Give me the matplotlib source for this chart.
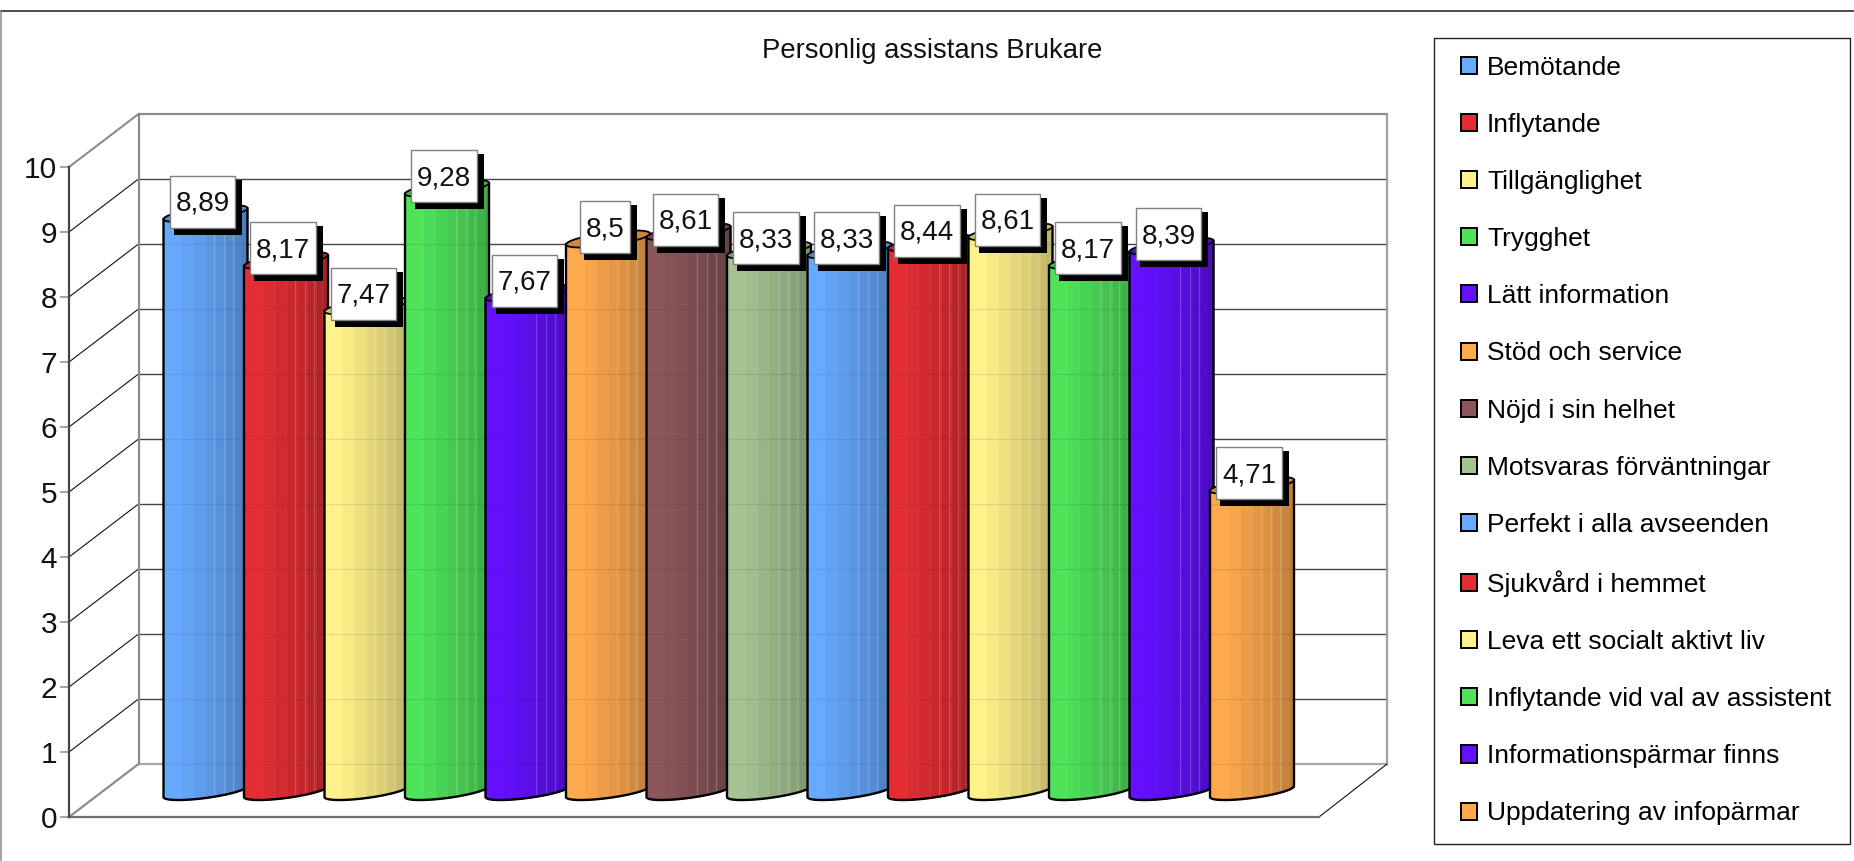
import numpy as np
import matplotlib
matplotlib.use('Agg')
import matplotlib.pyplot as plt
from matplotlib.patches import Patch, Polygon, Rectangle

plt.rcParams['font.family'] = ['Liberation Sans', 'DejaVu Sans']

title = 'Personlig assistans Brukare'
categories = ['Bemötande', 'Inflytande', 'Tillgänglighet', 'Trygghet', 'Lätt information',
              'Stöd och service', 'Nöjd i sin helhet', 'Motsvaras förväntningar',
              'Perfekt i alla avseenden', 'Sjukvård i hemmet', 'Leva ett socialt aktivt liv',
              'Inflytande vid val av assistent', 'Informationspärmar finns',
              'Uppdatering av infopärmar']
values = [8.89, 8.17, 7.47, 9.28, 7.67, 8.5, 8.61, 8.33, 8.33, 8.44, 8.61, 8.17, 8.39, 4.71]
colors = ['#66A9FF', '#E32D33', '#FFF28A', '#4FE35A', '#6410FF', '#FFA94D', '#8A565A',
          '#A6C492', '#66A9FF', '#E32D33', '#FFF28A', '#4FE35A', '#6410FF', '#FFA94D']
yticks = list(range(11))

# pixel sizes of the fake 3d box
W, H = 1854, 861
STEP = 80.5    # px per category
UNIT = 65.0    # px per value unit
X0 = 205.5     # px of first bar centre
Y0 = 817.0     # px of value 0 on the front plane
DPI = 100


def px(x):
    return (x - X0) / STEP


def py(y):
    return (Y0 - y) / UNIT


fig = plt.figure(figsize=(W / DPI, H / DPI), dpi=DPI, facecolor='white')
ax = fig.add_axes([0, 0, 1, 1])
ax.set_xlim(px(0), px(W))
ax.set_ylim(py(H), py(0))
ax.set_facecolor('white')

# outer frame
ax.plot([px(0), px(W)], [py(10.5), py(10.5)], color='#3c3c3c', lw=1.3, zorder=1)
ax.plot([px(1), px(1)], [py(10.5), py(H)], color='#8c8c8c', lw=1.1, zorder=1)

# walls and grid
front_l, back_l, back_r, front_r = px(69), px(138.5), px(1387), px(1319)
depth = 53 / UNIT
GREY = '#8c8c8c'
for v in yticks[1:]:
    ax.plot([front_l, back_l], [v, v + depth], color='#111111', lw=0.8, zorder=1)
    ax.plot([back_l, back_r], [v + depth, v + depth], color='#444444' if v < 10 else GREY,
            lw=1.0 if v < 10 else 1.6, zorder=1)
ax.plot([front_l, back_l], [10, 10 + depth], color=GREY, lw=1.4, zorder=1)
ax.plot([back_l, back_l], [depth, 10 + depth], color=GREY, lw=1.6, zorder=1)
ax.plot([back_r, back_r], [depth, 10 + depth], color='#a0a0a0', lw=1.6, zorder=1)
ax.plot([back_l, back_r], [depth, depth], color='#a8a8a8', lw=1.6, zorder=1)
ax.plot([front_l, back_l], [0, depth], color=GREY, lw=1.6, zorder=1)
ax.plot([front_r, back_r], [0, depth], color='#111111', lw=0.8, zorder=1)
ax.plot([front_l, front_r], [0, 0], color='#6e6e6e', lw=1.6, zorder=1)

# value axis
for side in ['top', 'right', 'bottom']:
    ax.spines[side].set_visible(False)
ax.spines['left'].set_position(('data', front_l))
ax.spines['left'].set_bounds(0, 10)
ax.spines['left'].set_color('#444444')
ax.spines['left'].set_linewidth(1.6)
ax.set_xticks([])
ax.set_yticks(yticks)
ax.tick_params(axis='y', length=6.5, width=1.1, color='#8c8c8c', pad=2, labelsize=21.5, labelcolor='#111111')

# cylinders
strip_edges = np.array([0, 18, 30, 42, 53, 63, 72, 78, 84]) / 84
strip_shade = [1.0, 0.97, 0.93, 0.89, 0.86, 0.82, 0.78, 0.75]
line_at = [51, 61, 70]
half_w = 42 / STEP
base = (817 - 791.5) / UNIT
t = np.linspace(0, 2 * np.pi, 121)
ex = half_w * np.cos(t)
ey = (5.5 * np.cos(t) - 6.5 * np.sin(t)) / UNIT  # tilted ellipse, right end goes up
low = np.sin(t) > 0
order = np.argsort(ex[low])
low_x, low_y = ex[low][order], ey[low][order]


def shade(color, f):
    return tuple(c * f for c in matplotlib.colors.to_rgb(color))


for i, (val, col) in enumerate(zip(values, colors)):
    z = 3 + i * 0.01
    for j in range(len(strip_shade)):
        xs = np.linspace(strip_edges[j], strip_edges[j + 1], 12) * 2 * half_w - half_w
        bottom = base + np.interp(xs, low_x, low_y)
        ax.fill_between(i + xs, bottom, bottom + val, color=shade(col, strip_shade[j]), lw=0.3, zorder=z)
    for lx in line_at:
        x = lx / 84 * 2 * half_w - half_w
        b = base + np.interp(x, low_x, low_y)
        ax.plot([i + x, i + x], [b, b + val], color='white', alpha=0.2, lw=0.8, zorder=z)
    # faint wall grid seen through the bar
    for v in yticks:
        if v + depth < base + val - 0.1:
            ax.plot([i - half_w, i + half_w], [v + depth, v + depth], color='#333333', alpha=0.12,
                    lw=0.8, zorder=z)
    ax.plot(np.r_[i - half_w, i + low_x, i + half_w, i + half_w],
            np.r_[base + val + low_y[0], base + low_y, base + low_y[-1], base + val + low_y[-1]],
            color='black', lw=1.7, zorder=z, solid_joinstyle='round')
    top = np.c_[i + ex, base + val + ey]
    ax.add_patch(Polygon(top, closed=True, facecolor=shade(col, 0.8), edgecolor='black', lw=1.3, zorder=z))

# data labels, box size follows the text
fig.canvas.draw()
renderer = fig.canvas.get_renderer()
for i, val in enumerate(values):
    z = 10 + i
    cx = i - 3 / STEP
    cy = base + val + 12 / UNIT
    txt = ax.text(cx, cy - 2 / UNIT, f'{val:g}'.replace('.', ','), ha='center', va='center', fontsize=20,
                  color='#111111', zorder=z + 0.5)
    w = (txt.get_window_extent(renderer).width + 11) / STEP
    h = 52 / UNIT
    ax.add_patch(Rectangle((cx - w / 2 + 4 / STEP, cy - h / 2 - 7 / UNIT), w + 3 / STEP, h + 3 / UNIT,
                           facecolor='black', edgecolor='none', zorder=z))
    ax.add_patch(Rectangle((cx - w / 2, cy - h / 2), w, h, facecolor='white', edgecolor='#808080',
                           lw=1.0, zorder=z + 0.2))

ax.text(px(932), py(51), title, ha='center', va='center', fontsize=19.8, color='#111111')

# legend
ax.add_patch(Rectangle((px(1434.5), py(844)), 415.5 / STEP, (844 - 37.5) / UNIT, facecolor='white',
                       edgecolor='#222222', lw=1.0, zorder=30))
handles = [Patch(facecolor=c, edgecolor='black', lw=1.4) for c in colors]
leg = fig.legend(handles, categories, loc='upper left', bbox_to_anchor=(1450.5 / W, 1 - 45 / H),
                 frameon=False, fontsize=19, labelspacing=1.257, handlelength=0.62, handleheight=0.62,
                 handletextpad=0.36, borderaxespad=0, borderpad=0.4)
leg.set_zorder(40)

fig.savefig('out.png', dpi=DPI)
